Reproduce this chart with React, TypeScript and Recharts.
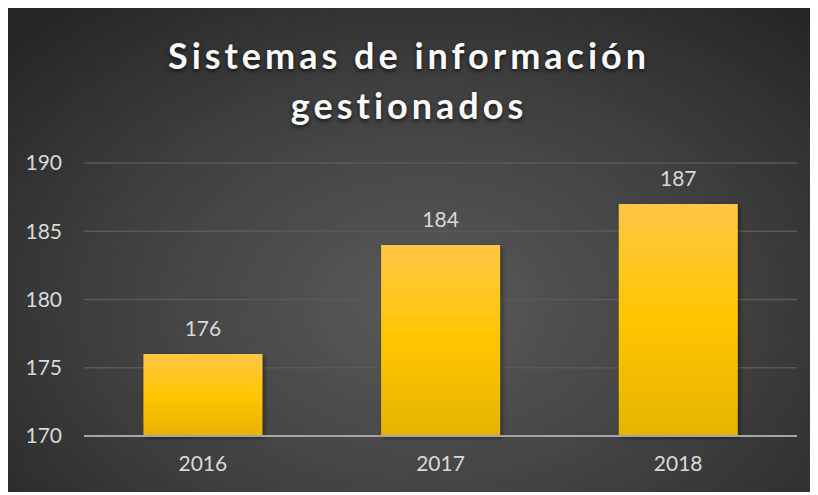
import { Bar, BarChart, CartesianGrid, LabelList, XAxis, YAxis } from "recharts";

const years = ["2016", "2017", "2018"];
const systems = [176, 184, 187];
const yTicks = [170, 175, 180, 185, 190];

const data = years.map((year, i) => ({ year, value: systems[i] }));

const textColor = "#d9d9d9";
const font = "Lato, 'Open Sans', sans-serif";

const App = () => {
	return (
		<div
			style={{
				position: "relative",
				top: -3,
				width: 802,
				height: 487,
				background: "radial-gradient(ellipse 70% 80% at 52% 62%, #5a5a5a 0%, #404040 55%, #262626 100%)",
				fontFamily: font,
			}}
		>
			<div
				style={{
					position: "absolute",
					left: 0,
					top: 25,
					width: "100%",
					textAlign: "center",
					color: "#fafafa",
					fontSize: 36,
					fontWeight: 700,
					letterSpacing: 4,
					lineHeight: "50px",
					textShadow: "0 2px 4px rgba(0,0,0,0.7)",
				}}
			>
				Sistemas de información
				<br />
				gestionados
			</div>
			<BarChart
				width={802}
				height={487}
				data={data}
				margin={{ top: 158, right: 13, bottom: 26, left: 16 }}
				barCategoryGap="25%"
				style={{ position: "absolute", left: 0, top: 0 }}
			>
				<defs>
					<linearGradient id="barFill" x1="0" y1="0" x2="0" y2="1">
						<stop offset="0%" stopColor="#ffc745" />
						<stop offset="50%" stopColor="#ffc600" />
						<stop offset="100%" stopColor="#e5b300" />
					</linearGradient>
					<filter id="barShadow" x="-10%" y="-10%" width="120%" height="120%">
						<feDropShadow dx="2" dy="2" stdDeviation="2" floodColor="#000" floodOpacity="0.45" />
					</filter>
				</defs>
				<CartesianGrid vertical={false} stroke="#595959" strokeWidth={1.5} />
				<XAxis
					dataKey="year"
					axisLine={{ stroke: "#a6a6a6", strokeWidth: 2 }}
					tickLine={false}
					tickSize={0}
					tickMargin={20}
					height={30}
					tick={{ fill: textColor, fontSize: 21, fontFamily: font }}
				/>
				<YAxis
					domain={[170, 190]}
					ticks={yTicks}
					axisLine={false}
					tickLine={false}
					tickSize={0}
					tickMargin={22}
					width={60}
					tick={{ fill: textColor, fontSize: 21, fontFamily: font }}
				/>
				<Bar
					dataKey="value"
					fill="url(#barFill)"
					filter="url(#barShadow)"
					isAnimationActive={false}
				>
					<LabelList
						dataKey="value"
						position="top"
						offset={18}
						fill={textColor}
						fontSize={21}
						fontFamily={font}
					/>
				</Bar>
			</BarChart>
		</div>
	);
};

export default App;
